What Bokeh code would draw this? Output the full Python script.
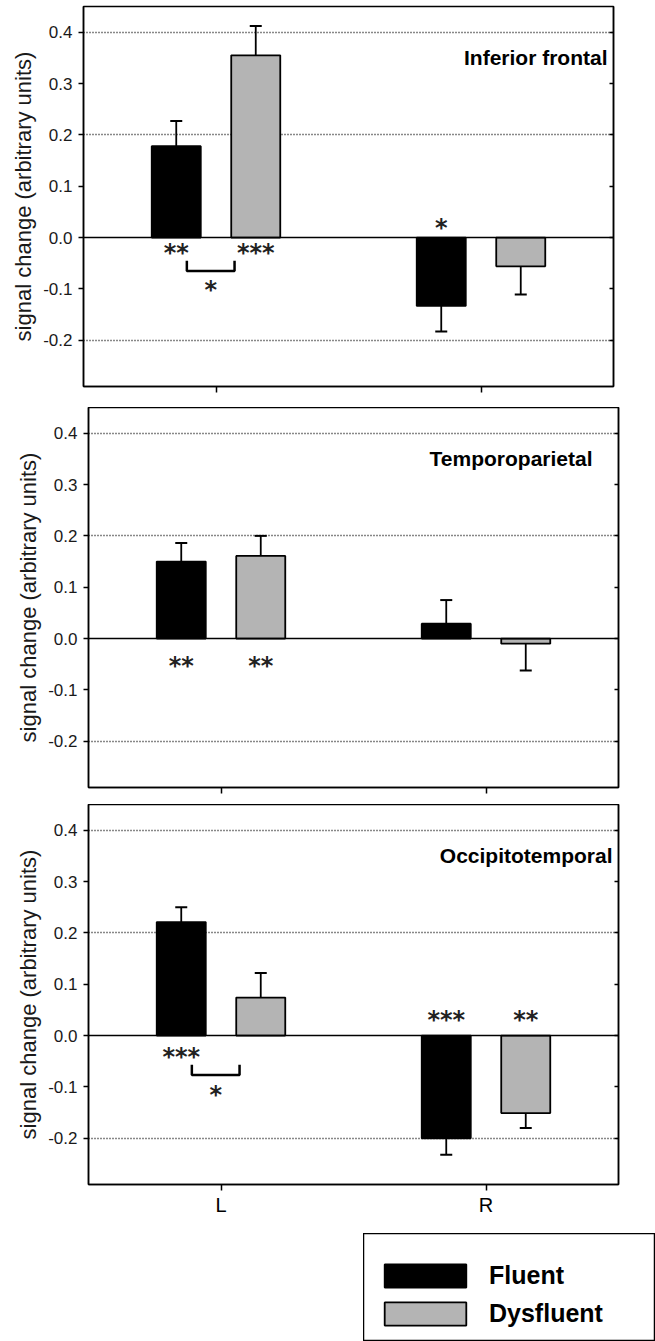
from bokeh.plotting import figure
from bokeh.layouts import column, row, Spacer
from bokeh.models import (ColumnDataSource, Range1d, FixedTicker, LinearAxis,
                          NumeralTickFormatter, Span, Label, Legend, LegendItem,
                          CustomLabelingPolicy)
from bokeh.core.properties import value
from bokeh.embed import file_html
from bokeh.resources import INLINE

# ---------------- data ----------------
regions = ["Inferior frontal", "Temporoparietal", "Occipitotemporal"]
hemispheres = ["L", "R"]
groups = ["Fluent", "Dysfluent"]

fluent_mean = [[0.178, -0.133], [0.150, 0.029], [0.221, -0.200]]
fluent_sem = [[0.049, 0.050], [0.036, 0.046], [0.029, 0.032]]
dysfluent_mean = [[0.355, -0.056], [0.161, -0.010], [0.074, -0.151]]
dysfluent_sem = [[0.057, 0.055], [0.039, 0.052], [0.048, 0.029]]

fluent_sig = [["**", "*"], ["**", ""], ["***", "***"]]
dysfluent_sig = [["***", ""], ["**", ""], ["", "**"]]
group_diff_sig = [{"L": "*"}, {}, {"L": "*"}]

y_ticks = [-0.2, -0.1, 0.0, 0.1, 0.2, 0.3, 0.4]
grid_ticks = [-0.2, 0.2, 0.4]
axis_title = "signal change (arbitrary units)"

# ---------------- style ----------------
FONT = "Liberation Sans"
colors = ["#000000", "#b4b4b4"]
group_offset = [-0.15, 0.15]
bar_width = 0.185
left_border = [83, 88, 87]
top_border = [6, 0, 0]
bottom_border = [21, 17, 49]
title_inset = [6, 26, 6]
star_offset = [0.024, 0.047, 0.036]
bracket_lo, bracket_hi = -0.11, 0.07


def hide_labels():
    return CustomLabelingPolicy(code="""
for (const i of indices) { indices.unset(i) }
return indices
""")


def make_panel(i):
    bottom_panel = i == len(regions) - 1
    p = figure(frame_width=530, frame_height=380,
               x_range=Range1d(-0.5, 1.5), y_range=Range1d(-0.29, 0.45),
               output_backend="svg", toolbar_location=None,
               min_border_left=left_border[i], min_border_right=10,
               min_border_top=top_border[i], min_border_bottom=bottom_border[i])
    p.outline_line_color = "black"
    p.outline_line_width = 1.5
    p.background_fill_color = "white"

    # x axis
    xa = p.xaxis[0]
    xa.ticker = FixedTicker(ticks=list(range(len(hemispheres))))
    xa.major_label_overrides = {k: h for k, h in enumerate(hemispheres)}
    xa.major_tick_in = 0
    xa.major_tick_out = 6
    xa.minor_tick_line_color = None
    xa.axis_line_width = 1.5
    xa.major_tick_line_width = 1.5
    xa.major_label_text_font = FONT
    xa.major_label_text_color = "black"
    if bottom_panel:
        xa.major_label_standoff = 3
        xa.major_label_text_font_size = "20px"
    else:
        xa.major_label_standoff = 0
        xa.major_label_text_font_size = "1px"
        xa.major_label_policy = hide_labels()

    # y axis
    ya = p.yaxis[0]
    ya.ticker = FixedTicker(ticks=y_ticks)
    ya.formatter = NumeralTickFormatter(format="0.0")
    ya.major_tick_in = 0
    ya.major_tick_out = 5
    ya.minor_tick_line_color = None
    ya.axis_line_width = 1.5
    ya.major_tick_line_width = 1.5
    ya.major_label_standoff = 6
    ya.major_label_text_font = FONT
    ya.major_label_text_font_size = "17px"
    ya.major_label_text_color = "#1a1a1a"
    ya.axis_label = axis_title
    ya.axis_label_text_font = FONT
    ya.axis_label_text_font_size = "22px"
    ya.axis_label_text_font_style = "normal"
    ya.axis_label_text_color = "#1a1a1a"
    ya.axis_label_standoff = 4

    ra = LinearAxis(ticker=FixedTicker(ticks=y_ticks), major_tick_in=4,
                    major_tick_out=0, major_label_policy=hide_labels(),
                    major_label_text_font_size="1px",
                    minor_tick_line_color=None, axis_line_width=1.5,
                    major_tick_line_width=1.5, major_label_standoff=0)
    p.add_layout(ra, "right")

    p.xgrid.visible = False
    p.ygrid[0].ticker = FixedTicker(ticks=grid_ticks)
    p.ygrid.grid_line_color = "#111111"
    p.ygrid.grid_line_width = 1.5
    p.ygrid.grid_line_dash = "1 2"

    p.add_layout(Span(location=0, dimension="width", line_color="black",
                      line_width=1.5))

    for g, (means, sems, sigs) in enumerate([
            (fluent_mean[i], fluent_sem[i], fluent_sig[i]),
            (dysfluent_mean[i], dysfluent_sem[i], dysfluent_sig[i])]):
        xs = [k + group_offset[g] for k in range(len(hemispheres))]
        tips = [m + (e if m >= 0 else -e) for m, e in zip(means, sems)]
        sig_y = [(-star_offset[i] if m >= 0 else star_offset[i]) for m in means]
        src = ColumnDataSource(dict(x=xs, top=means, tip=tips, sig=sigs, sig_y=sig_y))
        p.vbar(x="x", top="top", bottom=0, width=bar_width, source=src,
               fill_color=colors[g], line_color="black", line_width=1.8)
        p.segment(x0="x", y0="top", x1="x", y1="tip", source=src,
                  line_color="black", line_width=1.8)
        p.scatter(x="x", y="tip", marker="dash", size=12, source=src,
                  line_color="black", line_width=2)
        p.text(x="x", y="sig_y", text="sig", source=src,
               text_font=value("DejaVu Sans"), text_font_size="24px",
               text_font_style="bold",
               text_align="center", text_baseline="alphabetic", y_offset=3,
               text_color="#222222")

    for hemi, lab in group_diff_sig[i].items():
        k = hemispheres.index(hemi)
        off = star_offset[i]
        top_y, bot_y = -(off + 0.021), -(off + 0.041)
        p.multi_line(xs=[[k + bracket_lo, k + bracket_lo, k + bracket_hi, k + bracket_hi]],
                     ys=[[top_y, bot_y, bot_y, top_y]],
                     line_color="black", line_width=2.5)
        p.text(x=[k + (bracket_lo + bracket_hi) / 2], y=[-(off + 0.073)], text=[lab],
               text_font=value("DejaVu Sans"), text_font_size="24px",
               text_font_style="bold",
               text_align="center", text_baseline="alphabetic", y_offset=3,
               text_color="#222222")

    p.add_layout(Label(x=1.5, y=0.35, x_offset=-title_inset[i], text=regions[i],
                       text_align="right", text_baseline="middle",
                       text_font=FONT, text_font_size="21px",
                       text_font_style="bold", text_color="black"))
    return p


panels = [make_panel(i) for i in range(len(regions))]

# ---------------- legend ----------------
lf = figure(width=292, height=108, x_range=Range1d(0, 1), y_range=Range1d(0, 1),
            output_backend="svg", toolbar_location=None, min_border=0)
lf.axis.visible = False
lf.grid.visible = False
lf.outline_line_color = "black"
lf.outline_line_width = 1.5
items = []
for g, name in enumerate(groups):
    # a single bar placed outside the visible range: only its legend swatch shows
    src = ColumnDataSource(dict(x=[-10], top=[0]))
    r = lf.vbar(x="x", top="top", bottom=0, width=0.1, source=src,
                fill_color=colors[g], line_color="black", line_width=1.8)
    items.append(LegendItem(label=name, renderers=[r]))
legend = Legend(items=items, location=(11, 13), glyph_width=102, glyph_height=29,
                label_standoff=13, spacing=9, padding=0, margin=0,
                label_text_font=FONT, label_text_font_size="25px",
                label_text_font_style="bold", label_text_color="black",
                border_line_alpha=0, background_fill_alpha=0)
lf.add_layout(legend, "center")

layout = column(row(panels[0]), panels[1], panels[2],
                row(Spacer(width=363, height=108), lf))

open("out.html", "w").write(file_html(layout, INLINE))
